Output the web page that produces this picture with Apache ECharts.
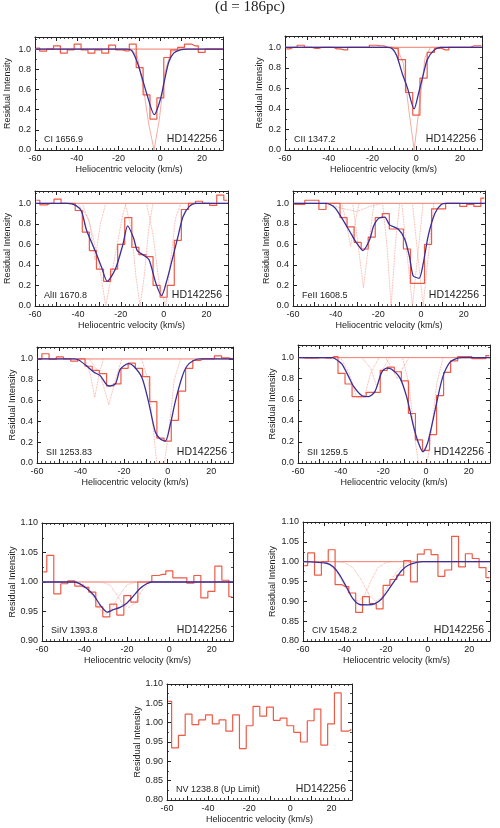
<!DOCTYPE html>
<html>
<head>
<meta charset="utf-8">
<script src="https://cdn.jsdelivr.net/npm/echarts@6/dist/echarts.min.js"></script>
<style>
html,body{margin:0;padding:0;background:#fff;}
#chart{width:500px;height:828px;}
</style>
</head>
<body>
<div id="chart"></div>
<script>
// bin centres of the observed spectra (km/s)
var binVel = [-59.4,-56.1,-52.8,-49.5,-46.2,-42.9,-39.6,-36.3,-33.0,-29.7,-26.4,-23.1,-19.8,-16.5,-13.2,-9.9,-6.6,-3.3,0.0,3.3,6.6,9.9,13.2,16.5,19.8,23.1,26.4,29.7];

// CI 1656.9
var ciFlux = [1.01,0.98,1.0,1.033,0.96,0.993,1.05,0.993,0.96,0.993,0.96,1.04,0.993,0.983,1.05,0.817,0.547,0.307,0.517,0.917,0.993,1.017,1.05,1.033,0.967,1.0,1.0,1.0];
var ciFit = [[-60,1],[-16,1],[-13.6,0.983],[-10.7,0.85],[-6.4,0.55],[-2.9,0.35],[0,0.5],[2.1,0.7],[4,0.87],[6.4,0.96],[9.6,0.993],[13,1],[30,1]];
var ciComp = [[-60,1],[-14,1],[-11,0.93],[-8,0.6],[-5.5,0.25],[-3,0],[-0.5,0.3],[2,0.75],[5,0.97],[8,1],[30,1]];

// CII 1347.2
var ciiFlux = [0.985,1.0,1.02,1.0,0.99,1.0,1.0,0.985,0.975,1.0,1.0,1.0,1.02,1.015,1.0,0.99,0.88,0.56,0.34,0.7,0.95,0.99,0.975,1.0,1.0,1.0,1.015,1.015];
var ciiFit = [[-60,1],[-13,1],[-11,0.985],[-9,0.92],[-6.5,0.75],[-4,0.6],[-1,0.4],[1,0.55],[3,0.72],[5,0.88],[8,0.97],[11,1],[30,1]];
var ciiComp = [[-60,1],[-9,1],[-6,0.85],[-3.5,0.4],[-1,0],[1.5,0.45],[4,0.9],[6.5,1],[30,1]];

// AlII 1670.8
var alFlux = [1.03,0.985,1.0,1.04,1.0,1.0,0.93,0.72,0.54,0.36,0.24,0.36,0.6,0.86,0.57,0.5,0.48,0.2,0.085,0.2,0.64,0.94,1.0,1.02,1.0,0.98,1.08,1.03];
var alFit = [[-60,1],[-45,1],[-41,0.98],[-38.3,0.92],[-36,0.74],[-32,0.54],[-29,0.38],[-26.3,0.24],[-22.5,0.36],[-19,0.6],[-16.8,0.78],[-14,0.66],[-12.3,0.54],[-9,0.49],[-6.8,0.45],[-3.6,0.22],[-1,0.1],[1.5,0.25],[3.6,0.42],[6.6,0.67],[9,0.87],[12,0.97],[15,1],[30,1]];
var alComp1 = [[-38,1],[-34.5,0.8],[-32,0.45],[-29.5,0.8],[-27,1]];
var alComp2 = [[-40,1],[-35,0.85],[-30.5,0.45],[-27,0],[-23,0.45],[-19,0.9],[-17.5,1]];
var alComp3 = [[-18,1],[-15,0.75],[-13,0.3],[-11,0],[-9,0.3],[-7,0.75],[-5,1]];
var alComp4 = [[-8,1],[-5,0.7],[-2,0.2],[1,0],[3,0.4],[5.5,0.85],[8,1]];

// FeII 1608.5
var feFlux = [0.99,0.99,1.03,1.03,0.94,1.0,1.0,0.86,0.77,0.62,0.555,0.67,0.86,0.9,0.75,0.75,0.555,0.22,0.22,0.6,0.945,0.945,1.0,1.0,0.97,0.99,0.97,1.05];
var feFit = [[-60,1],[-44.5,1],[-40.5,0.96],[-37.4,0.865],[-33.5,0.73],[-30.4,0.62],[-27.2,0.54],[-24,0.65],[-22.2,0.78],[-19.4,0.86],[-17,0.865],[-14.7,0.79],[-10.7,0.75],[-7.6,0.65],[-5.3,0.47],[-3.7,0.295],[-0.9,0.27],[1,0.41],[3.4,0.685],[6.5,0.9],[9.6,0.99],[12,1],[30,1]];
var feComp1 = [[-44,1],[-37,0.95],[-30,0.92],[-24,0.97],[-18,1]];
var feComp2 = [[-37,1],[-35,0.8],[-33,0.58],[-31,0.8],[-29,1]];
var feComp3 = [[-32,1],[-29.5,0.6],[-27,0.18],[-24.5,0.6],[-22,1]];
var feComp4 = [[-18,1],[-16,0.6],[-14,0],[-12,0.6],[-10,1]];
var feComp5 = [[-9,1],[-6.5,0.5],[-4,0],[-1.5,0.5],[1,1]];
var feComp6 = [[-4,1],[-1.5,0.5],[1,0],[3.5,0.5],[6,1]];

// SII 1253.83
var s1Flux = [1.0,1.05,0.995,1.02,1.0,0.98,1.0,0.93,0.89,0.86,0.74,0.76,0.91,0.96,0.91,0.83,0.59,0.24,0.21,0.41,0.69,0.91,0.985,1.0,1.0,1.03,1.01,1.0];
var s1Fit = [[-60,1],[-43,1],[-40.9,0.99],[-37,0.93],[-34,0.875],[-31,0.84],[-27.1,0.74],[-24,0.76],[-21.8,0.9],[-18,0.955],[-15.6,0.93],[-11.8,0.82],[-8.8,0.59],[-5.7,0.3],[-3.4,0.23],[-1.1,0.21],[1.2,0.37],[3.5,0.59],[6.5,0.82],[8.8,0.93],[11.9,0.985],[15,1],[30,1]];
var s1Comp1 = [[-38,1],[-35.5,0.85],[-33.5,0.63],[-31.5,0.85],[-29.5,1]];
var s1Comp2 = [[-36,1],[-31,0.85],[-27,0.56],[-24,0.8],[-21,1]];
var s1Comp3 = [[-12,1],[-9,0.8],[-6.5,0.3],[-5,0],[-1.5,0],[0.5,0.3],[3,0.8],[6,1]];

// SII 1259.5
var s2Flux = [1.0,0.995,0.995,1.0,0.995,1.01,0.85,0.75,0.63,0.63,0.67,0.67,0.88,0.91,0.866,0.78,0.47,0.22,0.12,0.27,0.64,0.86,0.97,1.01,1.01,0.99,0.99,1.02];
var s2Fit = [[-60,1],[-44,1],[-42.6,0.99],[-39.5,0.94],[-36.4,0.825],[-34,0.73],[-30.1,0.64],[-27,0.63],[-23.9,0.68],[-20.8,0.86],[-18.5,0.9],[-16.1,0.89],[-12.3,0.81],[-9.1,0.63],[-6,0.36],[-3.7,0.2],[-1.4,0.105],[0.9,0.2],[3.3,0.41],[5.6,0.63],[7.9,0.82],[11,0.95],[14.2,0.99],[17,1],[30,1]];
var s2Comp1 = [[-40,1],[-36,0.85],[-32.5,0.62],[-29,0.62],[-26,0.85],[-22,1]];
var s2Comp2 = [[-30,1],[-26,0.9],[-23,0.72],[-20,0.9],[-17,1]];
var s2Comp3 = [[-19,1],[-16,0.9],[-13.5,0.8],[-11,0.9],[-8,1]];
var s2Comp4 = [[-11,1],[-8,0.75],[-5,0.2],[-3.5,0],[0.5,0],[2,0.2],[5,0.75],[8,1]];

// SiIV 1393.8
var siFlux = [1.017,1.045,0.98,0.997,1.002,0.993,0.991,0.983,0.958,0.941,0.9625,0.944,0.977,0.966,1.0,1.0,1.011,1.013,1.019,1.007,1.007,0.998,1.011,0.973,0.984,1.027,1.003,0.975];
var siFit = [[-60,1],[-45,1],[-42.8,0.998],[-38.9,0.989],[-35.7,0.978],[-32.6,0.961],[-29.2,0.949],[-26.4,0.953],[-23.2,0.957],[-20.1,0.964],[-17,0.976],[-13.8,0.989],[-10.7,0.997],[-8.4,1],[30,1]];
var siComp1 = [[-60,1],[-45,1],[-40,0.995],[-36,0.975],[-33,0.955],[-30,0.945],[-27,0.955],[-24,0.975],[-20,0.995],[-16,1],[30,1]];
var siComp2 = [[-60,1],[-32,1],[-28,0.995],[-25,0.98],[-22,0.962],[-19,0.957],[-16,0.965],[-13,0.985],[-10,0.998],[-7,1],[30,1]];

// CIV 1548.2
var cvFlux = [0.99,1.022,0.966,1.0,1.03,0.942,0.937,0.921,0.872,0.912,0.894,0.881,0.94,0.955,0.966,1.003,0.949,1.019,1.03,1.018,0.963,0.979,1.064,0.987,1.02,1.008,0.985,0.96];
var cvFit = [[-60,1],[-48.7,0.996],[-45.5,0.987],[-42.3,0.966],[-39.1,0.936],[-35.9,0.906],[-32.7,0.892],[-28.6,0.891],[-25.4,0.894],[-22.2,0.906],[-19,0.928],[-15.8,0.953],[-12.6,0.977],[-9.4,0.991],[-5.3,0.998],[-2.1,1],[30,1]];
var cvComp1 = [[-60,1],[-55,1],[-48,0.995],[-44,0.975],[-40,0.94],[-36,0.905],[-33,0.9],[-30,0.92],[-27,0.955],[-24,0.985],[-20,0.998],[-16,1],[30,1]];
var cvComp2 = [[-60,1],[-44,1],[-40,0.998],[-36,0.985],[-32,0.955],[-28,0.915],[-25,0.9],[-22,0.91],[-19,0.94],[-15,0.975],[-11,0.995],[-7,1],[30,1]];

// NV 1238.8 (upper limit)
var nvFlux = [1.055,0.935,0.967,1.022,0.995,1.007,1.02,0.997,1.007,0.978,1.02,0.933,0.992,1.042,1.017,1.04,1.006,1.012,0.992,0.975,0.95,1.005,1.035,0.942,0.997,1.077,0.978,0.982];

var lineNames = ['CI 1656.9','CII 1347.2','AlII 1670.8','FeII 1608.5','SII 1253.83','SII 1259.5','SiIV 1393.8','CIV 1548.2','NV 1238.8 (Up Limit)'];
var fluxes = [ciFlux,ciiFlux,alFlux,feFlux,s1Flux,s2Flux,siFlux,cvFlux,nvFlux];
var fits = [ciFit,ciiFit,alFit,feFit,s1Fit,s2Fit,siFit,cvFit,null];
var comps = [[ciComp],[ciiComp],[alComp1,alComp2,alComp3,alComp4],
  [feComp1,feComp2,feComp3,feComp4,feComp5,feComp6],[s1Comp1,s1Comp2,s1Comp3],
  [s2Comp1,s2Comp2,s2Comp3,s2Comp4],[siComp1,siComp2],[cvComp1,cvComp2],[]];
var yRanges = [[0,1.12,0.2],[0,1.11,0.2],[0,1.12,0.2],[0,1.12,0.2],[0,1.115,0.2],[0,1.12,0.2],[0.9,1.1,0.05],[0.8,1.1,0.05],[0.8,1.1,0.05]];

// layout: left, top, width, height, y-name gap
var boxes = [[35,37,188,113,23],[285,36,197,114,21],[35,191,193,115,23],[293,191,192,115,22],
  [37,347,196,116,20],[298,345,192,118,21],[42,523,191,118,25],[303,522,187,119,26],[167,684,185,116,25]];

var RED = '#ee5a45', BLUE = '#3a2e9a', LIGHT = '#f3978a';
var font = 'Liberation Sans, Arial, Helvetica, sans-serif';

var grids = [], xAxes = [], yAxes = [], series = [], graphics = [];

function pairs(vals){
  var out = [];
  for (var i = 0; i < vals.length; i++) out.push([binVel[i], vals[i]]);
  return out;
}

boxes.forEach(function(b, i){
  var yr = yRanges[i];
  var dec = yr[2] < 0.1 ? 2 : 1;
  grids.push({left:b[0], top:b[1], width:b[2], height:b[3]});
  var axLine = {show:true, onZero:false, lineStyle:{color:'#222', width:1}};
  var tick = {show:true, inside:true, length:4, lineStyle:{color:'#222', width:1}};
  var minor = {show:true, splitNumber:5, length:2, lineStyle:{color:'#222', width:0.8}};
  xAxes.push({type:'value', gridIndex:i, min:-60, max:30, interval:10, position:'bottom',
    axisLine:axLine, axisTick:tick, minorTick:minor, splitLine:{show:false},
    axisLabel:{color:'#222', fontSize:9, fontFamily:font, margin:4,
      formatter:function(v){ return v % 20 === 0 ? String(v) : ''; }},
    name:'Heliocentric velocity (km/s)', nameLocation:'middle', nameGap:15,
    nameTextStyle:{color:'#222', fontSize:9, fontFamily:font}});
  xAxes.push({type:'value', gridIndex:i, min:-60, max:30, interval:10, position:'top',
    axisLine:axLine, axisTick:tick, minorTick:minor, splitLine:{show:false}, axisLabel:{show:false}});
  var yminor = {show:true, splitNumber:2, length:2, lineStyle:{color:'#222', width:0.8}};
  yAxes.push({type:'value', gridIndex:i, min:yr[0], max:yr[1], interval:yr[2], position:'left',
    axisLine:axLine, axisTick:tick, minorTick:yminor, splitLine:{show:false},
    axisLabel:{color:'#222', fontSize:9, fontFamily:font, margin:4, showMaxLabel:i >= 6,
      formatter:function(v){ return v.toFixed(dec); }},
    name:'Residual Intensity', nameLocation:'middle', nameGap:b[4],
    nameTextStyle:{color:'#222', fontSize:9, fontFamily:font}});
  yAxes.push({type:'value', gridIndex:i, min:yr[0], max:yr[1], interval:yr[2], position:'right',
    axisLine:axLine, axisTick:tick, minorTick:yminor, splitLine:{show:false}, axisLabel:{show:false}});

  var xi = i * 2, yi = i * 2;
  if (fits[i]) {
    series.push({type:'line', xAxisIndex:xi, yAxisIndex:yi, data:[[-60,1],[30,1]], symbol:'none',
      lineStyle:{color:RED, width:0.8}, silent:true});
  }
  comps[i].forEach(function(c){
    series.push({type:'line', xAxisIndex:xi, yAxisIndex:yi, data:c, symbol:'none',
      lineStyle:{color:LIGHT, width:0.8, type: i < 2 ? 'solid' : 'dotted'}, silent:true});
  });
  series.push({type:'line', xAxisIndex:xi, yAxisIndex:yi, data:pairs(fluxes[i]), step:'middle',
    symbol:'none', lineStyle:{color:RED, width:1.2}, silent:true});
  if (fits[i]) {
    series.push({type:'line', xAxisIndex:xi, yAxisIndex:yi, data:fits[i], symbol:'none',
      smooth:0.25, lineStyle:{color:BLUE, width:1.3}, silent:true});
  }
  graphics.push({type:'text', left:b[0] + 9, top:b[1] + b[3] - 15,
    style:{text:lineNames[i], fill:'#222', font:'9px ' + font}});
  graphics.push({type:'text', right:500 - b[0] - b[2] + 6, top:b[1] + b[3] - 16,
    style:{text:'HD142256', fill:'#222', font:'10.5px ' + font}});
});

graphics.push({type:'text', left:'center', top:0,
  style:{text:'(d = 186pc)', fill:'#222', font:'15px Liberation Serif, Times New Roman, serif'}});

var chart = echarts.init(document.getElementById('chart'), null, {renderer:'canvas'});
chart.setOption({
  animation:false,
  backgroundColor:'#fff',
  grid:grids,
  xAxis:xAxes,
  yAxis:yAxes,
  series:series,
  graphic:graphics
});
</script>
</body>
</html>
